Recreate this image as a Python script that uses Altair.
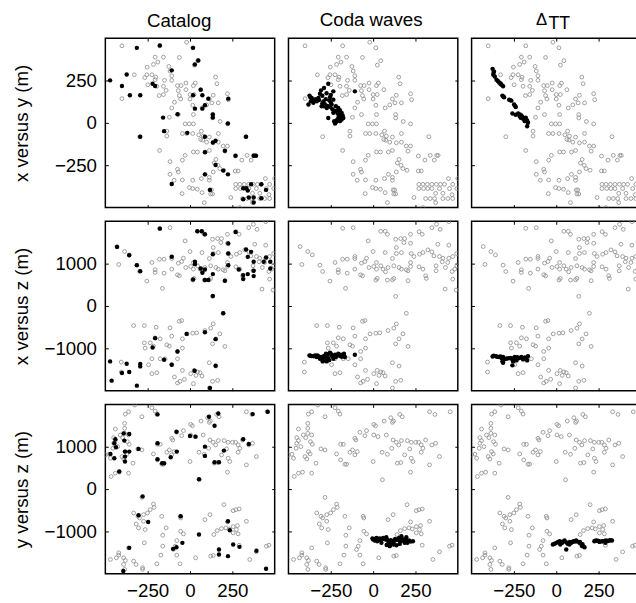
import altair as alt
import pandas as pd

FONT = "Liberation Sans"
ROW_TITLES = ["x versus y (m)", "x versus z (m)", "y versus z (m)"]
H_TICKS = [-250, 0, 250]
XY_TICKS = [-250, 0, 250]
Z_TICKS = [-1000, 0, 1000]
H_DOMAIN = [-500, 500]
XY_DOMAIN = [-500, 500]
Z_DOMAIN = [-2000, 2000]

# ---- background events (grey open circles), same in every column of a row ----
R1_GRAY = [(-402,455),(-180,455),(-20,476),(16,443),(-206,388),(-157,388),(-63,386),(45,367),(-190,359),(-216,345),
(-253,329),(-125,333),(25,341),(-118,306),(-329,284),(-255,284),(-225,284),(-267,267),(-202,270),(-108,278),(151,270),
(-206,255),(-151,251),(-108,251),(-24,235),(31,235),(159,231),(-249,225),(-196,216),(-157,216),(-74,220),(-53,220),
(20,220),(-141,192),(-69,190),(-24,196),(63,196),(-157,167),(-182,161),(-63,161),(0,167),(24,167),(-55,141),(0,141),
(114,141),(137,163),(221,172),(-402,143),(-92,122),(16,104),(71,88),(98,106),(129,118),(167,118),(227,137),(-108,88),
(20,49),(133,49),(133,29),(-69,49),(-122,33),(178,8),(221,-6),(-29,-6),(-4,-6),(20,-6),(-298,-82),(-137,-49),(-137,-78),
(-45,-63),(-20,-63),(16,-63),(67,-49),(51,-71),(78,-78),(63,-98),(75,-102),(98,-114),(137,-118),(167,-114),(167,-63),
(329,-82),(114,-84),(196,-137),(221,-137),(-180,-163),(20,-172),(43,-172),(90,-172),(114,-163),(206,-167),(267,-196),
(337,-192),(376,-192),(384,-192),(306,-220),(361,-220),(-29,-192),(-45,-220),(-118,-229),(153,-216),(143,-237),
(176,-270),(200,-280),(165,-251),(267,-284),(284,-284),(-74,-274),(-69,-290),(-118,-304),(-45,-337),(-94,-339),
(16,-339),(67,-329),(90,-304),(137,-290),(114,-322),(114,-339),(-4,-382),(16,-388),(43,-392),(71,-412),(-47,-418),
(118,-396),(127,-396),(122,-420),(133,-420),(241,-441),(84,-471),(294,-500),(445,-329),(270,-363),(294,-363),(320,-363),
(347,-363),(373,-363),(398,-363),(421,-363),(470,-363),(270,-388),(298,-388),(323,-388),(347,-388),(392,-388),
(451,-388),(494,-388),(369,-416),(412,-416),(310,-447),(337,-447),(363,-447),(412,-447),(441,-447),(470,-447),
(466,-424),(369,-471),(500,-329)]

R2_GRAY = [(-180,1835),(-118,1850),(45,1764),(71,1764),(84,1693),(374,1929),(447,1991),(396,1811),(347,1850),(271,1756),
(290,1693),(221,1693),(163,1592),(186,1592),(133,1576),(182,1497),(221,1482),(-29,1537),(382,1458),(447,1435),
(-431,1403),(-386,1286),(-359,1207),(0,1286),(71,1262),(137,1380),(137,1239),(167,1262),(225,1239),(241,1168),
(274,1223),(294,1262),(323,1325),(347,1278),(359,1184),(392,1168),(412,1129),(447,1129),(470,1168),(494,1239),
(-108,1168),(-108,1121),(-153,1105),(-180,1105),(-225,1027),(-39,1129),(-49,1051),(-69,1011),(-421,980),(-314,964),
(-298,815),(-206,855),(-206,792),(-153,776),(-108,870),(-74,737),(-63,713),(-25,909),(4,933),(20,1027),(20,870),
(45,949),(59,870),(73,808),(88,909),(114,1121),(122,949),(153,909),(167,870),(196,855),(221,1027),(221,933),(206,831),
(271,925),(294,870),(310,713),(314,651),(372,831),(372,949),(408,1043),(427,909),(441,1027),(466,815),(482,870),
(494,949),(470,635),(425,400),(490,376),(-255,588),(-163,416),(24,651),(16,612),(84,612),(114,619),(206,596),(133,227),
(122,651),
(-49,-345),(-63,-361),(196,-172),(137,-423),(122,-525),(88,-580),(39,-635),(16,-643),(-18,-659),(176,-659),(153,-776),
(133,-894),(206,-956),(-333,-463),(-270,-463),(-200,-502),(-118,-517),(-108,-713),(-45,-776),(-206,-753),(-176,-776),
(-270,-870),(-235,-870),(-216,-949),(-137,-917),(-122,-949),(-45,-996),(-74,-1074),(-74,-1247),(-108,-1388),
(-147,-1247),(-176,-1247),(-225,-1247),(-245,-1388),(-406,-1325),(-406,-1560),(-225,-1599),(-196,-1576),(-92,-1678),
(-45,-1521),(-74,-1819),(-59,-1780),(-33,-1733),(20,-1835),(4,-1599),(24,-1521),(45,-1560),(59,-1576),(71,-1654),
(35,-1639),(114,-1341),(153,-1419),(133,-1780),(163,-1756),(114,-1937),(-265,-996)]

R3_GRAY = [(-327,1984),(-225,1921),(-206,1842),(-196,1772),(-284,1709),(-363,1827),(-382,1772),(157,1764),(172,1709),
(104,1686),(114,1576),(120,1607),(65,1607),(4,1529),(14,1497),(-39,1380),(-78,1341),(-108,1200),(-102,1160),(-49,1262),
(4,1278),(29,1239),(78,1278),(118,1160),(137,1105),(151,1043),(167,1145),(202,1145),(225,1105),(251,1105),(269,1105),
(284,1043),(310,1160),(347,1043),(369,1082),(333,1827),(365,1764),(455,1827),(-441,1419),(-386,1552),(-386,1435),
(-386,1317),(-363,1278),(-412,1278),(-451,1215),(-441,1145),(-451,1082),(-427,1003),(-398,1215),(-370,1121),
(-359,1058),(-382,886),(-372,831),(-402,768),(-392,713),(-337,612),(-480,823),(-500,808),(-470,729),(-455,964),
(-441,376),(-417,400),(-466,298),(-363,376),(-308,949),(-284,925),(-216,831),(-192,1058),(-176,1058),(-137,870),
(-122,925),(-108,808),(-94,886),(-167,588),(-192,690),(-157,588),(0,651),(53,870),(84,823),(110,964),(143,612),
(163,627),(186,808),(216,949),(225,729),(235,651),(284,870),(294,964),(333,572),(392,768),(221,400),(55,220),
(451,-1348),(-284,-196),(-216,-353),(-212,-431),(-235,-486),(-251,-564),(-274,-604),(-298,-682),(-333,-564),
(-308,-643),(-318,-823),(-304,-917),(-265,-956),(-274,-760),(-167,-643),(-59,-643),(-55,-682),(-141,-917),
(-161,-1090),(-55,-996),(-39,-1058),(88,-721),(118,-604),(200,-368),(255,-510),(271,-486),(290,-470),(333,-760),
(221,-776),(161,-980),(186,-933),(212,-917),(231,-941),(255,-886),(280,-862),(274,-956),(284,-1058),(255,-1035),
(290,-1325),(392,-1482),(353,-1662),(466,-1325),(-270,-1270),(-161,-1348),(-78,-1215),(-88,-1348),(-98,-1427),
(-78,-1560),(-172,-1560),(-196,-1764),(-59,-1764),(33,-1623),(122,-1584),(137,-1568),(-363,-1388),(-421,-1505),
(-421,-1560),(-435,-1623),(-470,-1662),(-392,-1623),(-382,-1686),(-392,-1780),(-386,-1897),(-333,-1701),
(-319,-1780),(-280,-1858),(-280,-1897),(141,-1074)]

# ---- highlighted events (black dots) ----
CAT_R1 = [(-314,443),(-178,457),(18,443),(-472,251),(-374,286),(-402,218),(-355,163),(-294,163),(-221,231),(-206,218),
(-108,310),(29,345),(49,368),(63,196),(18,163),(73,163),(108,143),(29,84),(73,84),(88,104),(135,49),(135,31),(226,143),
(224,-4),(-159,31),(-74,51),(-153,-49),(-16,-59),(-294,-82),(88,-82),(135,-116),(151,-106),(88,-174),(206,-165),
(269,-194),(331,-82),(376,-194),(390,-194),(151,-249),(196,-282),(224,-304),(88,-304),(-108,-361),(118,-396),
(314,-386),(333,-386),(361,-363),(421,-363),(449,-396),(341,-400),(314,-451),(347,-441),(376,-441),(376,-470),(421,-445)]
CODA_R1 = [(-265,231),(-290,206),(-308,192),(-235,186),(-108,186),(-314,172),(-376,161),(-363,147),(-323,147),(-255,151),
(-368,127),(-382,108),(-353,118),(-294,127),(-259,133),(-235,137),(-304,98),(-274,88),(-245,108),(-220,98),(-206,88),
(-196,74),(-186,59),(-216,69),(-200,39),(-176,29),(-196,10),(-220,4),(-225,-4),(-265,29),(-180,43),(-235,59),(-290,98),
(-333,127),(-206,20),(-186,20),(-370,150),(-357,135),(-340,140),(-320,135),(-300,115),(-285,110),(-270,100),(-255,95),
(-240,80),(-228,70),(-210,55),(-200,50),(-190,35),(-205,30),(-215,15),(-230,10),(-250,120),(-280,140),(-300,160),
(-275,175),(-250,165)]
DTT_R1 = [(-376,319),(-368,304),(-372,284),(-353,255),(-337,239),(-323,225),(-314,216),(-318,161),(-308,151),(-278,137),
(-265,131),(-249,108),(-239,94),(-259,55),(-225,55),(-206,43),(-192,29),(-176,20),(-167,0),(-172,-20),(-216,39),
(-363,274),(-329,231),(-186,10),(-196,24),(-370,296),(-345,247),(-330,232),(-313,156),(-272,134),(-244,101),(-240,48),
(-215,50),(-200,35),(-183,15),(-170,10),(-180,30),(-210,30)]

CAT_R2 = [(-431,1396),(-359,1200),(-314,964),(-294,823),(-178,1827),(-108,1160),(29,1043),(29,988),(18,627),(43,1764),
(69,1764),(88,1693),(63,886),(73,784),(88,862),(88,612),(108,612),(135,753),(135,1223),(226,1474),(226,1239),(226,964),
(206,596),(269,1748),(288,862),(314,635),(314,729),(341,753),(331,1333),(341,1160),(361,1278),(376,1043),(376,831),
(376,706),(435,1043),(449,1145),(474,886),(474,1043),(135,235),(196,-172),(88,-619),(-20,-659),(151,-784),(-206,-760),
(-221,-980),(-74,-1074),(-153,-1270),(-108,-1388),(-472,-1309),(-374,-1364),(-359,-1560),(-402,-1584),(-294,-1372),
(-294,-1427),(-314,-1882),(-463,-1764),(27,-1529),(151,-1411),(118,-1936)]
CODA_R2 = [(-376,-1168),(-363,-1184),(-343,-1168),(-323,-1184),(-304,-1207),(-294,-1247),(-284,-1286),(-274,-1309),
(-278,-1129),(-255,-1105),(-245,-1168),(-235,-1247),(-220,-1207),(-206,-1129),(-196,-1184),(-180,-1168),(-167,-1207),
(-172,-1129),(-265,-1231),(-314,-1247),(-298,-1309),(-108,-1152),(-333,-1207),(-225,-1152),(-370,-1176),(-350,-1190),
(-330,-1170),(-310,-1220),(-290,-1180),(-270,-1150),(-250,-1130),(-240,-1200),(-230,-1180),(-210,-1160),(-190,-1150),
(-185,-1200),(-300,-1270),(-280,-1230),(-260,-1280)]
DTT_R2 = [(-376,-1192),(-357,-1184),(-337,-1207),(-323,-1231),(-318,-1309),(-314,-1341),(-298,-1247),(-278,-1231),
(-265,-1247),(-259,-1403),(-245,-1207),(-225,-1231),(-206,-1207),(-196,-1262),(-180,-1247),(-167,-1184),(-172,-1286),
(-314,-1207),(-235,-1286),(-255,-1309),(-370,-1175),(-350,-1200),(-330,-1190),(-305,-1260),(-290,-1240),(-270,-1225),
(-250,-1230),(-240,-1250),(-215,-1225),(-200,-1230),(-185,-1215),(-175,-1260),(-230,-1210)]

CAT_R3 = [(-470,831),(-447,1082),(-447,729),(-441,1176),(-437,988),(-418,416),(-392,1317),(-388,1145),(-384,886),
(-384,768),(-384,651),(-359,1301),(-359,886),(-304,949),(-192,1764),(-192,1082),(-192,706),(-165,612),(-153,612),
(-114,753),(-80,1356),(-78,886),(0,1254),(33,1239),(88,1003),(88,784),(112,1709),(145,1497),(167,1787),(145,635),
(171,635),(200,909),(314,1176),(347,1066),(370,1772),(459,1827),(53,235),(-280,-172),(-304,-619),(-247,-776),
(-55,-643),(-45,-1270),(-80,-1372),(-100,-1411),(53,-1074),(-359,-1388),(-394,-1936),(224,-760),(235,-972),
(171,-1427),(171,-1544),(224,-1584),(255,-1309),(292,-1364),(392,-1458),(449,-1882)]
CODA_R3 = [(-4,-1168),(10,-1215),(24,-1231),(39,-1168),(59,-1152),(75,-1192),(88,-1294),(98,-1348),(114,-1231),
(127,-1215),(137,-1325),(153,-1152),(167,-1113),(176,-1215),(186,-1270),(196,-1137),(212,-1215),(235,-1231),
(78,-1137),(20,-1152),(49,-1270),(122,-1309),(157,-1294),(202,-1270),(0,-1190),(15,-1180),(30,-1200),(45,-1200),
(65,-1180),(85,-1200),(95,-1250),(105,-1210),(120,-1250),(130,-1180),(145,-1200),(160,-1230),(170,-1170),(190,-1200),
(205,-1230),(220,-1240),(80,-1320),(110,-1300)]
DTT_R3 = [(-20,-1309),(0,-1270),(20,-1231),(35,-1270),(49,-1215),(59,-1427),(69,-1294),(88,-1270),(102,-1231),
(118,-1215),(137,-1270),(153,-1348),(167,-1372),(147,-1294),(225,-1231),(239,-1215),(255,-1247),(274,-1231),
(294,-1215),(314,-1215),(329,-1215),(24,-1309),(78,-1309),(290,-1270),(-10,-1290),(10,-1250),(28,-1250),(40,-1240),
(60,-1260),(80,-1250),(95,-1250),(110,-1240),(125,-1240),(140,-1250),(155,-1300),(230,-1220),(250,-1225),(265,-1235),
(285,-1225),(305,-1225),(320,-1205)]

GRAY = [R1_GRAY, R2_GRAY, R3_GRAY]
BLACK = [[CAT_R1, CODA_R1, DTT_R1], [CAT_R2, CODA_R2, DTT_R2], [CAT_R3, CODA_R3, DTT_R3]]

W = 172
H = 172


def text_layer(txt, px, py, fs):
    return alt.Chart(alt.Data(values=[{"t": txt}])).mark_text(
        font=FONT, fontSize=fs, align="center", baseline="alphabetic", color="black"
    ).encode(text="t:N", x=alt.value(px), y=alt.value(py))


def panel(row, col):
    vdom = XY_DOMAIN if row == 0 else Z_DOMAIN
    vticks = XY_TICKS if row == 0 else Z_TICKS
    g = pd.DataFrame(GRAY[row], columns=["h", "v"])
    b = pd.DataFrame(BLACK[row][col], columns=["h", "v"])
    hs = alt.Scale(domain=H_DOMAIN, nice=False, zero=False)
    vs = alt.Scale(domain=vdom, nice=False, zero=False)
    common = dict(domain=False, grid=False, ticks=True, tickSize=3, offset=-3,
                  tickColor="black", tickWidth=1, labelFont=FONT, labelFontSize=19,
                  labelColor="black", format="d")
    xb = alt.Axis(orient="bottom", values=H_TICKS, labels=(row == 2), labelPadding=8,
                  title=None, **common)
    xt = alt.Axis(orient="top", values=H_TICKS, labels=False, title=None, **common)
    if col == 0:
        yl = alt.Axis(orient="left", values=vticks, labels=True, labelPadding=9,
                      title=ROW_TITLES[row], titleFont=FONT, titleFontSize=19,
                      titleFontWeight="normal", titleColor="black", titleX=-78,
                      titleBaseline="bottom", **common)
    else:
        yl = alt.Axis(orient="left", values=vticks, labels=False, title=None, **common)
    yr = alt.Axis(orient="right", values=vticks, labels=False, title=None, **common)

    gray_layer = alt.Chart(g).mark_point(
        shape="circle", filled=False, size=15, strokeWidth=0.9, color="#959595",
        opacity=1, clip=True
    ).encode(x=alt.X("h:Q", scale=hs, axis=xb), y=alt.Y("v:Q", scale=vs, axis=yl))
    black_layer = alt.Chart(b).mark_circle(
        size=20, color="black", opacity=1, clip=True
    ).encode(x=alt.X("h:Q", scale=hs, axis=xt), y=alt.Y("v:Q", scale=vs, axis=yr))
    layers = [gray_layer, black_layer]
    if row == 0:
        if col == 0:
            layers.append(text_layer("Catalog", 75, -11, 19))
        elif col == 1:
            layers.append(text_layer("Coda waves", 84, -12, 19))
        else:
            layers.append(text_layer("Δ", 71, -13, 17))
            layers.append(text_layer("TT", 89, -9, 18))
    return alt.layer(*layers).resolve_axis(x="independent", y="independent").properties(
        width=W, height=H
    )


rows = [alt.hconcat(*[panel(r, c) for c in range(3)], spacing=10) for r in range(3)]
chart = alt.vconcat(*rows, spacing=10).properties(
    padding={"left": 12, "top": 6, "right": -7, "bottom": 3},
    background="white",
).configure_view(stroke="black", strokeWidth=1.5)

chart.save("out.html", embed_options={"renderer": "svg", "actions": False})
